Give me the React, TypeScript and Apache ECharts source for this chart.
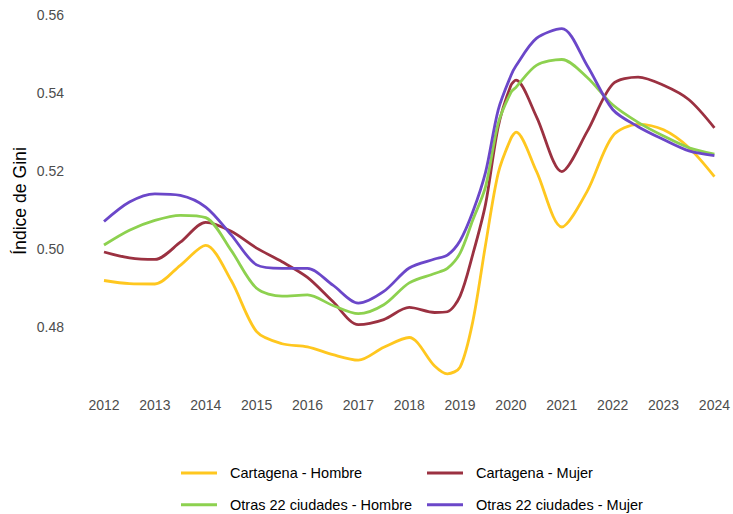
import React, { useEffect, useRef } from "react";
import * as echarts from "echarts";

const years = [2012, 2012.5, 2013, 2013.5, 2014, 2014.5, 2015, 2015.5, 2016, 2016.5, 2017, 2017.5, 2018, 2018.5, 2018.75, 2019, 2019.25, 2019.5, 2019.75, 2020, 2020.1, 2020.5, 2021, 2021.5, 2022, 2022.5, 2023, 2023.5, 2024];

const cartagenaHombre = [0.4920, 0.4912, 0.4911, 0.4959, 0.5010, 0.4920, 0.4789, 0.4758, 0.4750, 0.4730, 0.4716, 0.4749, 0.4774, 0.4701, 0.4681, 0.4698, 0.4815, 0.5011, 0.5195, 0.5284, 0.5300, 0.5200, 0.5057, 0.5149, 0.5290, 0.5320, 0.5306, 0.5260, 0.5186];
const cartagenaMujer = [0.4993, 0.4978, 0.4974, 0.5018, 0.5069, 0.5046, 0.5003, 0.4968, 0.4928, 0.4866, 0.4807, 0.4820, 0.4851, 0.4838, 0.4840, 0.4880, 0.4987, 0.5115, 0.5314, 0.5420, 0.5433, 0.5340, 0.5199, 0.5302, 0.5423, 0.5441, 0.5420, 0.5383, 0.5311];
const otrasHombre = [0.5011, 0.5049, 0.5074, 0.5087, 0.5081, 0.4997, 0.4900, 0.4880, 0.4883, 0.4856, 0.4835, 0.4858, 0.4914, 0.4938, 0.4951, 0.4990, 0.5075, 0.5160, 0.5323, 0.5402, 0.5415, 0.5471, 0.5486, 0.5440, 0.5370, 0.5325, 0.5290, 0.5260, 0.5244];
const otrasMujer = [0.5071, 0.5121, 0.5142, 0.5138, 0.5108, 0.5037, 0.4960, 0.4951, 0.4951, 0.4908, 0.4862, 0.4892, 0.4952, 0.4975, 0.4985, 0.5022, 0.5096, 0.5197, 0.5357, 0.5445, 0.5470, 0.5540, 0.5565, 0.5470, 0.5358, 0.5314, 0.5281, 0.5252, 0.5240];

const yTicks = [0.48, 0.5, 0.52, 0.54, 0.56];
const seriesNames = ["Cartagena - Hombre", "Cartagena - Mujer", "Otras 22 ciudades - Hombre", "Otras 22 ciudades - Mujer"];
const seriesValues = [cartagenaHombre, cartagenaMujer, otrasHombre, otrasMujer];
const colors = ["#FFC71F", "#9B3141", "#8DD14F", "#6B47C9"];

const FONT = "'Liberation Sans', Arial, sans-serif";

export default function App() {
  const ref = useRef<HTMLDivElement>(null);
  useEffect(() => {
    document.body.style.margin = "0";
    if (!ref.current) return;
    const chart = echarts.init(ref.current, null, { renderer: "svg" });
    const legendCommon = {
      orient: "vertical",
      icon: "rect",
      itemWidth: 36,
      itemHeight: 3,
      itemGap: 14.7,
      top: 464.5,
      height: 60,
      padding: 0,
      textStyle: { fontSize: 14.5, color: "#000", fontFamily: FONT, lineHeight: 17, padding: [0, 0, 0, 8] },
    };
    chart.setOption({
      animation: false,
      color: colors,
      grid: { left: 104, right: 18, top: 11.1, bottom: 123, containLabel: false },
      legend: [
        { ...legendCommon, left: 181, data: [seriesNames[0], seriesNames[2]] },
        { ...legendCommon, left: 427, data: [seriesNames[1], seriesNames[3]] },
      ],
      xAxis: {
        type: "value",
        min: 2012,
        max: 2024,
        interval: 1,
        axisLine: { show: false },
        axisTick: { show: false },
        splitLine: { show: false },
        axisLabel: { color: "#4D4D4D", fontSize: 14, fontFamily: FONT, margin: 7, formatter: (v: number) => String(v) },
      },
      yAxis: {
        type: "value",
        min: 0.4637,
        max: 0.561,
        axisLine: { show: false },
        axisTick: { show: false },
        splitLine: { show: false },
        axisLabel: {
          color: "#4D4D4D",
          fontSize: 14,
          fontFamily: FONT,
          margin: 40,
          customValues: yTicks,
          formatter: (v: number) => v.toFixed(2),
        },
      },
      graphic: [
        {
          type: "text",
          x: 20,
          y: 201,
          rotation: Math.PI / 2,
          style: {
            text: "Índice de Gini",
            fontSize: 17.6,
            fontFamily: FONT,
            fill: "#000",
            textAlign: "center",
            textVerticalAlign: "middle",
          },
        },
      ],
      series: seriesNames.map((name, i) => ({
        name,
        type: "line",
        smooth: 0.3,
        symbol: "none",
        lineStyle: { width: 2.8, color: colors[i] },
        itemStyle: { color: colors[i] },
        data: years.map((y, j) => [y, seriesValues[i][j]]),
      })),
    });
    return () => chart.dispose();
  }, []);
  return <div ref={ref} style={{ width: 733, height: 514 }} />;
}
